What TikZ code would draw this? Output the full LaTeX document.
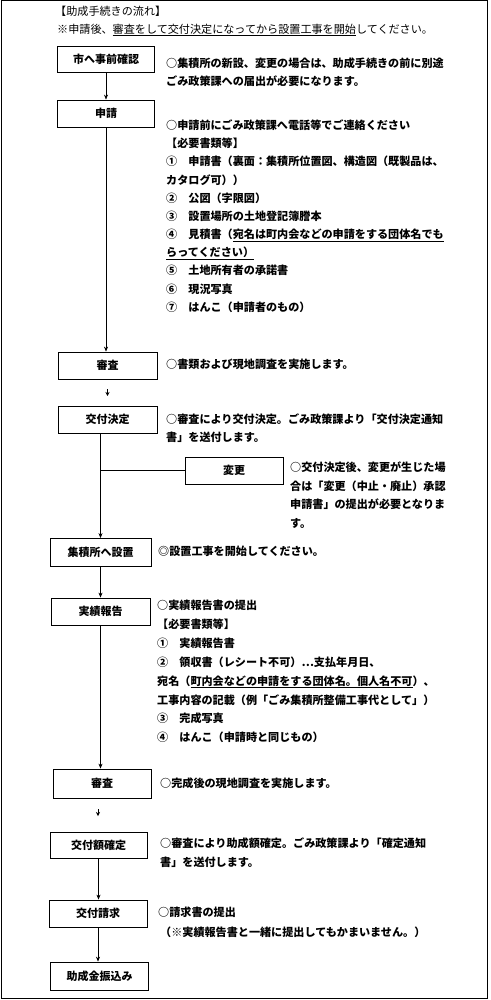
\documentclass[tikz,border=0pt]{standalone}
\usepackage{fontspec}
\newfontfamily\jp{Noto Sans CJK JP}
\usetikzlibrary{arrows.meta}
\begin{document}
\begin{tikzpicture}[x=1pt,y=-1pt,
  box/.style={draw, line width=0.8pt, minimum height=27pt, inner sep=0pt,
    text height=9.5pt, text depth=1.1pt, font=\jp\bfseries\fontsize{11}{13}\selectfont},
  desc/.style={anchor=west, inner sep=0pt, text height=9.5pt, text depth=1.1pt,
    font=\jp\bfseries\fontsize{11.1}{13}\selectfont},
  ttl/.style={anchor=west, inner sep=0pt, text height=9.5pt, text depth=1.1pt,
    font=\jp\fontsize{11.1}{13}\selectfont},
  arr/.style={-{Stealth[length=5pt,width=4pt]}, line width=0.6pt},
  tick/.style={-{Stealth[length=4pt,width=4pt]}, line width=0.6pt},
  conn/.style={line width=0.6pt}]
\useasboundingbox (0,0) rectangle (490,1000);
\draw[line width=1pt] (1,0.5) rectangle (487.5,998);

% titles
\node[ttl] (t1) at (55,11) {【助成手続きの流れ】};
\node[ttl] (t2) at (57,29) {※申請後、\underline{審査をして交付決定になってから設置工事を開始}してください。};

% boxes
\node[box, minimum width=97pt, minimum height=26pt] (b1) at (106,59) {市へ事前確認};
\node[box, minimum width=97pt] (b2) at (106,113.5) {申請};
\node[box, minimum width=99pt] (b3) at (107.5,365.5) {審査};
\node[box, minimum width=99pt] (b4) at (107.5,419.5) {交付決定};
\node[box, minimum width=98pt] (b5) at (234,470.5) {変更};
\node[box, minimum width=101pt, minimum height=28pt] (b6) at (100.5,552.5) {集積所へ設置};
\node[box, minimum width=99pt] (b7) at (100.5,611.5) {実績報告};
\node[box, minimum width=98pt, minimum height=29pt] (b8) at (102,783.5) {審査};
\node[box, minimum width=97pt, minimum height=26pt] (b9) at (98.5,845) {交付額確定};
\node[box, minimum width=98pt] (b10) at (98,913.5) {交付請求};
\node[box, minimum width=98pt, minimum height=28pt] (b11) at (99.5,976) {助成金振込み};

% connectors
\draw[arr] (b1.south) -- (b1.south |- b2.north);
\draw[arr] (b2.south) -- (b2.south |- b3.north);
\coordinate (m1a) at (107.5,389);
\coordinate (m1b) at (107.5,396);
\draw[tick] (m1a) -- (m1b);
\draw[arr] (b6.north |- b4.south) -- (b6.north);
\draw[conn] (b6.north |- b5.west) -- (b5.west);
\draw[arr] (b6.south) -- (b6.south |- b7.north);
\draw[arr] (b7.south) -- (b7.south |- b8.north);
\coordinate (m2a) at (98,809);
\coordinate (m2b) at (98,816);
\draw[tick] (m2a) -- (m2b);
\draw[arr] (b9.south) -- (b9.south |- b10.north);
\draw[arr] (b10.south) -- (b10.south |- b11.north);

% descriptions
\node[desc] (d1a) at (166,63) {○集積所の新設、変更の場合は、助成手続きの前に別途};
\node[desc] (d1b) at (166,81) {ごみ政策課への届出が必要になります。};

\node[desc] (d2a) at (166,125) {○申請前にごみ政策課へ電話等でご連絡ください};
\node[desc] (d2b) at (166,143) {【必要書類等】};
\node[desc] (d2c) at (166,161) {①　申請書（裏面：集積所位置図、構造図（既製品は、};
\node[desc] (d2d) at (166,180) {カタログ可））};
\node[desc] (d2e) at (166,198) {②　公図（字限図）};
\node[desc] (d2f) at (166,216) {③　設置場所の土地登記簿謄本};
\node[desc] (d2g) at (166,234) {④　見積書（\underline{宛名は町内会などの申請をする団体名でも}};
\node[desc] (d2h) at (166,252) {\underline{らってください）}};
\node[desc] (d2i) at (166,270) {⑤　土地所有者の承諾書};
\node[desc] (d2j) at (166,289) {⑥　現況写真};
\node[desc] (d2k) at (166,307) {⑦　はんこ（申請者のもの）};

\node[desc] (d3) at (166,364) {○書類および現地調査を実施します。};

\node[desc] (d4a) at (166,419) {○審査により交付決定。ごみ政策課より「交付決定通知};
\node[desc] (d4b) at (166,437) {書」を送付します。};

\node[desc] (d5a) at (290,467) {○交付決定後、変更が生じた場};
\node[desc] (d5b) at (290,486) {合は「変更（中止・廃止）承認};
\node[desc] (d5c) at (290,504) {申請書」の提出が必要となりま};
\node[desc] (d5d) at (290,523) {す。};

\node[desc] (d6) at (158,551) {◎設置工事を開始してください。};

\node[desc] (d7a) at (157,605) {○実績報告書の提出};
\node[desc] (d7b) at (157,624) {【必要書類等】};
\node[desc] (d7c) at (157,643) {①　実績報告書};
\node[desc] (d7d) at (157,662) {②　領収書（レシート不可）…支払年月日、};
\node[desc] (d7e) at (157,681) {宛名（\underline{町内会などの申請をする団体名。個人名不可}）、};
\node[desc] (d7f) at (157,700) {工事内容の記載（例「ごみ集積所整備工事代として」）};
\node[desc] (d7g) at (157,718) {③　完成写真};
\node[desc] (d7h) at (157,737) {④　はんこ（申請時と同じもの）};

\node[desc] (d8) at (160,783) {○完成後の現地調査を実施します。};

\node[desc] (d9a) at (160,843) {○審査により助成額確定。ごみ政策課より「確定通知};
\node[desc] (d9b) at (160,862) {書」を送付します。};

\node[desc] (d10a) at (158,912) {○請求書の提出};
\node[desc] (d10b) at (160,932) {（※実績報告書と一緒に提出してもかまいません。）};
\end{tikzpicture}
\end{document}
